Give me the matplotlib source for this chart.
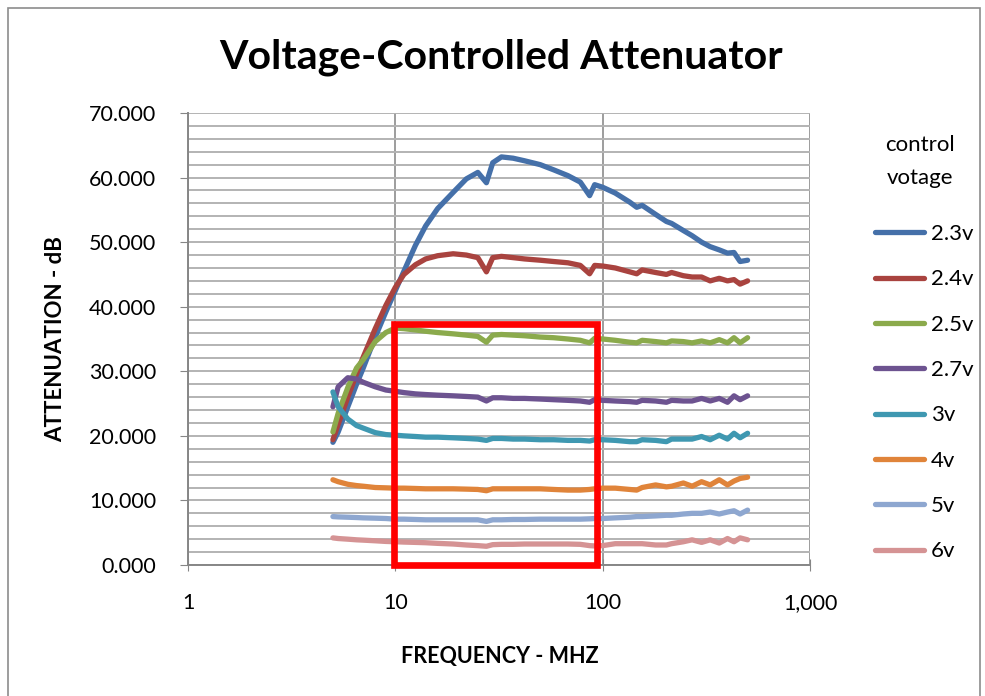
import matplotlib
matplotlib.use("Agg")
import matplotlib.pyplot as plt
from matplotlib.patches import Rectangle
from matplotlib.ticker import FixedLocator, FuncFormatter, NullLocator

plt.rcParams['font.family'] = ['Lato', 'DejaVu Sans']

# frequency points (MHz)
freq = [5, 5.3, 5.9, 6.5, 7, 8, 9, 10, 11, 12.5, 14, 16, 19, 22, 25, 27.5, 29.5, 32.5, 37, 42,
        50, 58, 68, 78, 86.5, 91.5, 100, 115, 135, 146, 155, 180, 203, 215, 245, 270, 300, 330,
        365, 400, 430, 460, 500]

v23 = [19.0, 20.6, 24.5, 28.0, 30.5, 35.3, 39.2, 42.5, 45.5, 49.5,
       52.5, 55.2, 57.7, 59.8, 60.8, 59.2, 62.3, 63.2, 63.0, 62.6,
       62.0, 61.2, 60.3, 59.3, 57.2, 58.9, 58.5, 57.6, 56.2, 55.4,
       55.7, 54.3, 53.2, 52.9, 51.8, 51.0, 50.0, 49.3, 48.8, 48.3,
       48.4, 47.0, 47.2]
v24 = [19.4, 21.8, 26.0, 29.6, 32.2, 36.6, 40.2, 43.0, 45.0, 46.5,
       47.4, 47.9, 48.2, 48.0, 47.6, 45.4, 47.6, 47.8, 47.6, 47.4,
       47.2, 47.0, 46.8, 46.4, 45.1, 46.4, 46.3, 46.0, 45.4, 45.1,
       45.7, 45.3, 45.0, 45.3, 44.8, 44.6, 44.6, 44.0, 44.4, 44.0,
       44.2, 43.5, 44.0]
v25 = [20.6, 23.5, 27.5, 30.5, 31.8, 34.6, 36.0, 36.7, 36.6, 36.4,
       36.2, 36.0, 35.8, 35.6, 35.4, 34.5, 35.6, 35.7, 35.6, 35.5,
       35.3, 35.2, 35.0, 34.8, 34.4, 35.1, 35.0, 34.8, 34.5, 34.4,
       34.8, 34.6, 34.4, 34.7, 34.6, 34.4, 34.7, 34.4, 34.9, 34.4,
       35.2, 34.4, 35.2]
v27 = [24.5, 27.6, 29.0, 28.8, 28.3, 27.6, 27.1, 26.9, 26.7, 26.5,
       26.4, 26.3, 26.2, 26.1, 26.0, 25.4, 25.9, 25.9, 25.8, 25.8,
       25.7, 25.6, 25.5, 25.4, 25.2, 25.6, 25.5, 25.4, 25.3, 25.2,
       25.5, 25.4, 25.2, 25.5, 25.4, 25.4, 25.8, 25.4, 25.8, 25.2,
       26.2, 25.6, 26.2]
v3 = [26.8, 24.5, 22.6, 21.6, 21.2, 20.5, 20.2, 20.1, 20.0, 19.9,
      19.8, 19.8, 19.7, 19.6, 19.5, 19.3, 19.6, 19.6, 19.5, 19.5,
      19.4, 19.4, 19.3, 19.3, 19.2, 19.4, 19.4, 19.3, 19.1, 19.1,
      19.4, 19.3, 19.1, 19.5, 19.5, 19.5, 19.9, 19.4, 20.1, 19.5,
      20.4, 19.7, 20.4]
v4 = [13.2, 12.9, 12.5, 12.3, 12.2, 12.0, 11.95, 11.9, 11.9, 11.85,
      11.8, 11.8, 11.8, 11.75, 11.7, 11.5, 11.8, 11.8, 11.8, 11.8,
      11.8, 11.7, 11.6, 11.6, 11.7, 11.8, 11.9, 11.9, 11.7, 11.6,
      12.0, 12.4, 12.1, 12.2, 12.7, 12.2, 12.9, 12.4, 13.2, 12.4,
      13.0, 13.4, 13.6]
v5 = [7.5, 7.45, 7.4, 7.35, 7.3, 7.25, 7.2, 7.1, 7.1, 7.05,
      7.0, 7.0, 7.0, 7.0, 7.0, 6.75, 7.0, 7.0, 7.05, 7.05,
      7.1, 7.1, 7.1, 7.1, 7.15, 7.2, 7.2, 7.3, 7.4, 7.5,
      7.5, 7.6, 7.7, 7.7, 7.9, 8.0, 8.0, 8.2, 7.9, 8.2,
      8.4, 7.9, 8.5]
v6 = [4.2, 4.1, 4.0, 3.9, 3.85, 3.75, 3.65, 3.6, 3.55, 3.5,
      3.45, 3.35, 3.25, 3.1, 3.0, 2.9, 3.15, 3.2, 3.2, 3.25,
      3.25, 3.25, 3.25, 3.2, 3.0, 2.95, 3.0, 3.3, 3.3, 3.3,
      3.3, 3.1, 3.1, 3.3, 3.6, 3.9, 3.5, 3.9, 3.4, 4.1,
      3.6, 4.2, 3.9]

labels = ["2.3v", "2.4v", "2.5v", "2.7v", "3v", "4v", "5v", "6v"]
series = [v23, v24, v25, v27, v3, v4, v5, v6]
colors = ["#4570A9", "#A9433F", "#8BAA4C", "#6D5390", "#3F98B1", "#E0843A", "#8EA7D0", "#D59394"]

fig = plt.figure(figsize=(9.85, 6.96), dpi=100)
ax = fig.add_axes([188/985, 1-565/696, (810-188)/985, (565-113)/696])

for vals, lab, c in zip(series, labels, colors):
    ax.plot(freq, vals, color=c, lw=3.8, label=lab, solid_capstyle='round', solid_joinstyle='round')

ax.set_xscale('log')
ax.set_xlim(1, 1000)
ax.set_ylim(0, 70)
ax.xaxis.set_major_locator(FixedLocator([1, 10, 100, 1000]))
ax.xaxis.set_minor_locator(NullLocator())
ax.xaxis.set_major_formatter(FuncFormatter(lambda v, p: f"{v:,.0f}"))
ax.set_yticks(range(0, 71, 10))
ax.set_yticks(range(0, 71, 2), minor=True)
ax.yaxis.set_major_formatter(FuncFormatter(lambda v, p: f"{v:.3f}"))

ax.grid(axis='y', which='both', color='#B3B3B3', lw=1.4)
ax.grid(axis='x', which='major', color='#8C8C8C', lw=1.2)
ax.set_axisbelow(True)
for s in ['top', 'right']:
    ax.spines[s].set_visible(False)
for s in ['left', 'bottom']:
    ax.spines[s].set_color('#868686')
    ax.spines[s].set_linewidth(1.4)
ax.tick_params(axis='y', which='major', direction='out', length=6, color='#868686', labelsize=15.5, pad=17)
ax.tick_params(axis='y', which='minor', length=0)
ax.tick_params(axis='x', which='major', direction='inout', length=8, color='#868686', labelsize=15.5, pad=16)

# red highlight box
ax.add_patch(Rectangle((9.8, 0), 93.5 - 9.8, 37.4, fill=False, edgecolor='#FF0000', lw=4.8,
                       clip_on=False, zorder=5))

fig.text(501/985, 1-57/696, "Voltage-Controlled Attenuator", ha='center', va='center',
         fontsize=29.5, fontweight='bold')
fig.text(56/985, 1-339/696, "ATTENUATION - dB", ha='center', va='center', rotation=90,
         fontsize=16, fontweight='bold')
fig.text(500/985, 1-656/696, "FREQUENCY - MHZ", ha='center', va='center',
         fontsize=15.5, fontweight='bold')

# legend title
fig.text(920/985, 1-145/696, "control", ha='center', va='center', fontsize=16)
fig.text(920/985, 1-178/696, "votage", ha='center', va='center', fontsize=16)

fig.legend(loc='upper left', bbox_to_anchor=(855/985, 1-204/696), frameon=False,
           fontsize=16, handlelength=2.2, handletextpad=0.3, labelspacing=1.14)

fig.add_artist(Rectangle((8/985, -0.1), (980-8)/985, 1.1 - 8/696, transform=fig.transFigure,
                         fill=False, edgecolor='#8C8C8C', lw=1.2))

fig.savefig("out.png", dpi=100)
